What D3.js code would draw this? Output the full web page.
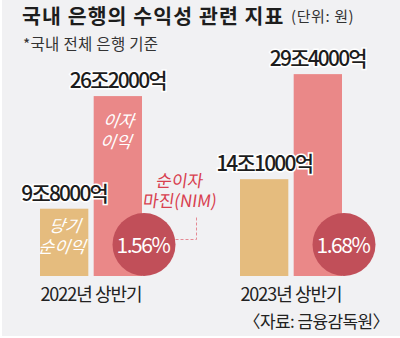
<!DOCTYPE html>
<html>
<head>
<meta charset="utf-8">
<script src="https://cdn.jsdelivr.net/npm/d3@7"></script>
<style>
  html, body { margin: 0; padding: 0; background: #fff; }
  svg { display: block; }
  text { font-family: "Noto Sans CJK KR", "Noto Sans", sans-serif; }
</style>
</head>
<body>
<svg id="chart" width="400" height="338"></svg>
<script>
// Half-year results of domestic banks (unit: 조 원)
const periods = ["2022년 상반기", "2023년 상반기"];
const seriesKeys = ["net", "interest"];
const netIncome = [9.8, 14.1];
const interestIncome = [26.2, 29.4];
const nimRates = [1.56, 1.68];
const seriesNames = { net: ["당기", "순이익"], interest: ["이자", "이익"] };

const colors = {
  bg: "#f1f1f3",
  net: "#e5bc7e",
  interest: "#ea8888",
  nim: "#c14f59",
  nimText: "#d8404f",
  dash: "#e48a94",
  ink: "#1d1d1d"
};

const svg = d3.select("#chart");
svg.append("rect").attr("x", 2).attr("y", 0).attr("width", 398).attr("height", 336).attr("fill", colors.bg);

const baseline = 276;
const y = d3.scaleLinear().domain([0, 30]).range([baseline, 70]);
const x0 = d3.scaleBand().domain(periods).range([40, 440]);
const x1 = d3.scaleBand().domain(seriesKeys).range([0, 102]).paddingInner(0.1);

const rows = periods.map((p, i) => ({
  period: p, net: netIncome[i], interest: interestIncome[i], nim: nimRates[i]
}));

function fmtWon(v) {
  const jo = Math.floor(v);
  const eok = Math.round((v - jo) * 10000);
  return jo + "조" + eok + "억";
}

// Title and notes
svg.append("text").attr("x", 22).attr("y", 24)
  .attr("font-size", 20.5).attr("font-weight", 700).attr("fill", colors.ink)
  .attr("letter-spacing", 1.1)
  .text("국내 은행의 수익성 관련 지표");
svg.append("text").attr("x", 291).attr("y", 22)
  .attr("font-size", 15).attr("fill", "#333")
  .attr("letter-spacing", 0.6)
  .text("(단위: 원)");
svg.append("text").attr("x", 23).attr("y", 50)
  .attr("font-size", 15.5).attr("fill", "#333")
  .attr("letter-spacing", 0.3)
  .text("*국내 전체 은행 기준");

const groups = svg.selectAll("g.group").data(rows).join("g")
  .attr("class", "group")
  .attr("transform", d => `translate(${x0(d.period)},0)`);

// Bars
groups.selectAll("rect.bar")
  .data(d => seriesKeys.map(k => ({ key: k, value: d[k] })))
  .join("rect").attr("class", "bar")
  .attr("x", d => x1(d.key))
  .attr("width", x1.bandwidth())
  .attr("y", d => y(d.value))
  .attr("height", d => baseline - y(d.value))
  .attr("fill", d => colors[d.key]);

// Value labels above bars
groups.selectAll("text.val")
  .data(d => seriesKeys.map(k => ({ key: k, value: d[k] })))
  .join("text").attr("class", "val")
  .attr("x", d => x1(d.key) + x1.bandwidth() / 2)
  .attr("y", d => y(d.value) - 8)
  .attr("text-anchor", "middle")
  .attr("font-size", 21).attr("font-weight", 500)
  .attr("letter-spacing", -1.8)
  .attr("fill", colors.ink)
  .attr("stroke", "#fff").attr("stroke-width", 3).attr("paint-order", "stroke")
  .text(d => fmtWon(d.value));

// Series names inside the first group's bars
const first = groups.filter((d, i) => i === 0);
seriesKeys.forEach(k => {
  const row = rows[0];
  const cx = x1(k) + x1.bandwidth() / 2;
  const top = y(row[k]);
  const startY = k === "interest" ? top + 31 : top + 23;
  first.append("text")
    .attr("text-anchor", "middle")
    .attr("font-size", 17).attr("font-style", "italic")
    .attr("fill", "#fff")
    .attr("transform", `translate(${cx},${startY}) skewX(-8)`)
    .selectAll("tspan").data(seriesNames[k]).join("tspan")
    .attr("x", 0).attr("dy", (d, i) => i === 0 ? 0 : 21)
    .text(d => d);
});

// NIM circles
const r = 31.5;
groups.append("circle")
  .attr("cx", x1("interest") + x1.bandwidth() + 2)
  .attr("cy", baseline - r)
  .attr("r", r)
  .attr("fill", colors.nim);
groups.append("text")
  .attr("x", x1("interest") + x1.bandwidth() + 1)
  .attr("y", baseline - r + 8)
  .attr("text-anchor", "middle")
  .attr("font-size", 21).attr("letter-spacing", -1.4)
  .attr("fill", "#fff")
  .text(d => d.nim.toFixed(2) + "%");

// NIM callout
const c0x = x0(periods[0]) + x1("interest") + x1.bandwidth() + 2;
const cy0 = baseline - r;
svg.append("path")
  .attr("d", `M${c0x + r},${cy0 - 5} H${c0x + r + 21} V${cy0 - 27}`)
  .attr("fill", "none").attr("stroke", colors.dash)
  .attr("stroke-width", 1).attr("stroke-dasharray", "3,2");
const nimLabel = svg.append("text")
  .attr("text-anchor", "middle")
  .attr("font-size", 17).attr("fill", colors.nimText)
  .attr("transform", `translate(${182},${187}) skewX(-8)`);
nimLabel.append("tspan").attr("x", -3).attr("dy", 0).text("순이자");
nimLabel.append("tspan").attr("x", 0).attr("dy", 20).text("마진(NIM)");

// Period labels
groups.append("text")
  .attr("x", 51).attr("y", 301)
  .attr("text-anchor", "middle")
  .attr("font-size", 18).attr("letter-spacing", -1)
  .attr("fill", "#222")
  .text(d => d.period);

// Source
svg.append("text").attr("x", 389).attr("y", 328)
  .attr("text-anchor", "end")
  .attr("font-size", 17).attr("letter-spacing", -0.6)
  .attr("fill", "#222")
  .text("〈자료: 금융감독원〉");
</script>
</body>
</html>
